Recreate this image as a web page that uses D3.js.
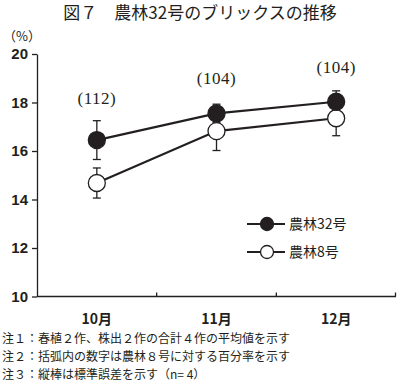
<!DOCTYPE html>
<html>
<head>
<meta charset="utf-8">
<script src="https://cdn.jsdelivr.net/npm/d3@7"></script>
<style>
  body { margin: 0; background: #fff; }
</style>
</head>
<body>
<div id="chart"></div>
<script>
const months = ['10月', '11月', '12月'];
const n32 = [16.45, 17.55, 18.03];
const n32err = [0.8, 0.38, 0.45];
const n8 = [14.68, 16.82, 17.35];
const n8err = [0.62, 0.8, 0.72];
const ratios = ['(112)', '(104)', '(104)'];
const ratioPos = [18.19, 19.02, 19.45];
const yTicks = [10, 12, 14, 16, 18, 20];
const notes = [
  '注１：春植２作、株出２作の合計４作の平均値を示す',
  '注２：括弧内の数字は農林８号に対する百分率を示す',
  '注３：縦棒は標準誤差を示す（n= 4）'
];

const ink = '#231f20';
const jp = '"Noto Sans CJK JP", sans-serif';

const svg = d3.select('#chart').append('svg')
  .attr('width', 400)
  .attr('height', 384);

svg.append('text')
  .attr('x', 200).attr('y', 19)
  .attr('text-anchor', 'middle')
  .attr('font-family', jp)
  .attr('font-size', 17)
  .attr('fill', ink)
  .text('図７　農林32号のブリックスの推移');

const xScale = d3.scaleBand()
  .domain(months)
  .range([37, 396]);

const yScale = d3.scaleLinear()
  .domain([10, 20])
  .range([296.5, 54]);

// y axis
const yAxis = svg.append('g')
  .attr('transform', 'translate(37,0)')
  .call(d3.axisLeft(yScale).tickValues(yTicks).tickSize(5).tickSizeOuter(0).tickFormat(d3.format('d')));
yAxis.select('.domain').attr('stroke', ink).attr('stroke-width', 1.3);
yAxis.selectAll('line').attr('stroke', ink).attr('stroke-width', 1.3);
yAxis.selectAll('text')
  .attr('x', -9)
  .attr('font-family', 'Arial, "Liberation Sans", sans-serif')
  .attr('font-weight', 'bold')
  .attr('font-size', 15)
  .attr('fill', ink);

svg.append('text')
  .attr('x', 3).attr('y', 41)
  .attr('font-family', jp)
  .attr('font-size', 13)
  .attr('fill', ink)
  .text('（%）');

// x axis, ticks on category boundaries
const xAxis = svg.append('g')
  .attr('transform', 'translate(0,296.5)');
xAxis.append('line')
  .attr('x1', 37).attr('x2', 396)
  .attr('stroke', ink).attr('stroke-width', 1.3);
xAxis.selectAll('.bt')
  .data(months.slice(1).concat(['end']))
  .join('line')
  .attr('x1', d => d === 'end' ? xScale.range()[1] - 0.5 : xScale(d))
  .attr('x2', d => d === 'end' ? xScale.range()[1] - 0.5 : xScale(d))
  .attr('y1', 0).attr('y2', -4)
  .attr('stroke', ink).attr('stroke-width', 1.3);
xAxis.selectAll('.lbl')
  .data(months)
  .join('text')
  .attr('x', d => xScale(d) + xScale.bandwidth() / 2)
  .attr('y', 27)
  .attr('text-anchor', 'middle')
  .attr('font-family', jp)
  .attr('font-weight', 'bold')
  .attr('font-size', 14)
  .attr('fill', ink)
  .text(d => d);

const cx = m => xScale(m) + xScale.bandwidth() / 2;
const line = d3.line()
  .x((d, i) => cx(months[i]))
  .y(d => yScale(d));

const series = [
  { name: '農林32号', values: n32, err: n32err, fill: ink },
  { name: '農林8号', values: n8, err: n8err, fill: '#fff' }
];

// error bars
series.forEach(s => {
  const g = svg.append('g').attr('stroke', ink).attr('stroke-width', 1.3);
  s.values.forEach((v, i) => {
    const x = cx(months[i]);
    g.append('line').attr('x1', x).attr('x2', x)
      .attr('y1', yScale(v - s.err[i])).attr('y2', yScale(v + s.err[i]));
    [v - s.err[i], v + s.err[i]].forEach(e => {
      g.append('line').attr('x1', x - 4).attr('x2', x + 4)
        .attr('y1', yScale(e)).attr('y2', yScale(e));
    });
  });
});

series.slice().reverse().forEach(s => {
  svg.append('path')
    .attr('d', line(s.values))
    .attr('fill', 'none')
    .attr('stroke', ink)
    .attr('stroke-width', 2.2);
});

series.slice().reverse().forEach(s => {
  svg.append('g').selectAll('circle')
    .data(s.values)
    .join('circle')
    .attr('cx', (d, i) => cx(months[i]))
    .attr('cy', d => yScale(d))
    .attr('r', 8.5)
    .attr('fill', s.fill)
    .attr('stroke', ink)
    .attr('stroke-width', 1.3);
});

svg.append('g').selectAll('text')
  .data(ratios)
  .join('text')
  .attr('x', (d, i) => cx(months[i]))
  .attr('y', (d, i) => yScale(ratioPos[i]) + 6)
  .attr('text-anchor', 'middle')
  .attr('font-family', '"Liberation Serif", serif')
  .attr('font-size', 17)
  .attr('letter-spacing', 0.5)
  .attr('fill', ink)
  .text(d => d);

// legend
const legend = svg.append('g')
  .selectAll('g')
  .data(series)
  .join('g')
  .attr('transform', (d, i) => `translate(247,${224 + i * 28})`);
legend.append('line')
  .attr('x1', 0).attr('x2', 38)
  .attr('stroke', ink).attr('stroke-width', 2.2);
legend.append('circle')
  .attr('cx', 20).attr('r', 6.5)
  .attr('fill', d => d.fill)
  .attr('stroke', ink).attr('stroke-width', 1.3);
legend.append('text')
  .attr('x', 42).attr('y', 5)
  .attr('font-family', jp)
  .attr('font-size', 14)
  .attr('fill', ink)
  .text(d => d.name);

svg.append('g').selectAll('text')
  .data(notes)
  .join('text')
  .attr('x', 2)
  .attr('y', (d, i) => 343 + i * 18)
  .attr('font-family', jp)
  .attr('font-size', 12)
  .attr('fill', ink)
  .text(d => d);
</script>
</body>
</html>
